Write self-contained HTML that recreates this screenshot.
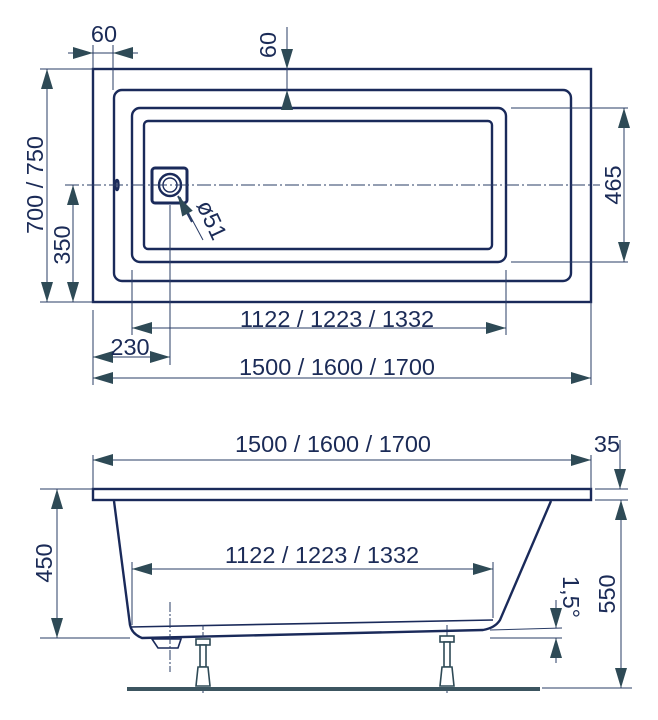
<!DOCTYPE html>
<html><head><meta charset="utf-8"><style>
html,body{margin:0;padding:0;background:#fff;}
svg{display:block;}
text{font-family:"Liberation Sans",sans-serif;fill:#1b2b57;font-size:23.5px;}
</style></head><body>
<svg width="658" height="720" viewBox="0 0 658 720" xmlns="http://www.w3.org/2000/svg">
<defs>
<marker id="a" viewBox="0 0 20 12" refX="20" refY="6" markerWidth="21" markerHeight="12" markerUnits="userSpaceOnUse" orient="auto-start-reverse">
<path d="M0,0 L20,6 L0,12 z" fill="#2e4a56"/>
</marker>
</defs>
<g fill="none" stroke="#1a2a5a" stroke-width="2.4">
<rect x="93" y="69" width="498" height="233"/>
<rect x="114" y="90" width="457" height="191" rx="8"/>
<rect x="132" y="108" width="374" height="154" rx="8"/>
<rect x="144" y="121" width="348" height="128" rx="4"/>
<rect x="152" y="168" width="35" height="35" rx="3" stroke-width="3"/>
<circle cx="170" cy="185" r="11"/>
<circle cx="170" cy="185" r="7" stroke-width="1.4"/>
<ellipse cx="117" cy="185" rx="1.5" ry="5"/>
<rect x="93" y="489" width="498" height="11"/>
<path d="M114,501 L130,625 Q132,634 142,638 L483,630 Q495,628 500,620 L551,501"/>
<path d="M130,627 L493,620" stroke-width="1.6"/>
<path d="M152,639 L181,639 L178,648 L158,648 Z" stroke-width="1.6"/>
</g>
<g fill="none" stroke="#2a3c66" stroke-width="1">
<line x1="65" y1="185" x2="600" y2="185" stroke-dasharray="14,3,2,3"/>
<line x1="93" y1="45" x2="93" y2="69"/>
<line x1="113" y1="45" x2="113" y2="90"/>
<line x1="287" y1="27" x2="287" y2="110"/>
<line x1="40" y1="69" x2="93" y2="69"/>
<line x1="40" y1="302" x2="93" y2="302"/>
<line x1="511" y1="108" x2="628" y2="108"/>
<line x1="511" y1="262" x2="628" y2="262"/>
<line x1="93" y1="310" x2="93" y2="385"/>
<line x1="132" y1="270" x2="132" y2="335"/>
<line x1="170" y1="205" x2="170" y2="365"/>
<line x1="506" y1="270" x2="506" y2="335"/>
<line x1="591" y1="302" x2="591" y2="385"/>
<line x1="180" y1="197" x2="203" y2="240"/>
<line x1="68" y1="53" x2="93" y2="53" marker-end="url(#a)"/>
<line x1="93" y1="53" x2="113" y2="53"/>
<line x1="138" y1="53" x2="113" y2="53" marker-end="url(#a)"/>
<line x1="287" y1="30" x2="287" y2="69" marker-end="url(#a)"/>
<line x1="287" y1="110" x2="287" y2="90" marker-end="url(#a)"/>
<line x1="47" y1="69" x2="47" y2="302" marker-start="url(#a)" marker-end="url(#a)"/>
<line x1="73" y1="185" x2="73" y2="302" marker-start="url(#a)" marker-end="url(#a)"/>
<line x1="624" y1="108" x2="624" y2="262" marker-start="url(#a)" marker-end="url(#a)"/>
<line x1="132" y1="328" x2="506" y2="328" marker-start="url(#a)" marker-end="url(#a)"/>
<line x1="93" y1="357" x2="170" y2="357" marker-start="url(#a)" marker-end="url(#a)"/>
<line x1="93" y1="378" x2="591" y2="378" marker-start="url(#a)" marker-end="url(#a)"/>
<line x1="192" y1="222" x2="178" y2="196" marker-end="url(#a)" stroke-width="2"/>
<line x1="93" y1="455" x2="93" y2="489"/>
<line x1="591" y1="455" x2="591" y2="489"/>
<line x1="93" y1="460" x2="591" y2="460" marker-start="url(#a)" marker-end="url(#a)"/>
<line x1="40" y1="489" x2="93" y2="489"/>
<line x1="40" y1="638" x2="130" y2="638"/>
<line x1="57" y1="489" x2="57" y2="638" marker-start="url(#a)" marker-end="url(#a)"/>
<line x1="595" y1="489" x2="628" y2="489"/>
<line x1="595" y1="500" x2="628" y2="500"/>
<line x1="620" y1="440" x2="620" y2="489" marker-end="url(#a)"/>
<line x1="621" y1="500" x2="621" y2="688" marker-start="url(#a)" marker-end="url(#a)"/>
<line x1="542" y1="688" x2="632" y2="688"/>
<line x1="132" y1="562" x2="132" y2="625"/>
<line x1="493" y1="562" x2="493" y2="618"/>
<line x1="132" y1="569" x2="493" y2="569" marker-start="url(#a)" marker-end="url(#a)"/>
<line x1="490" y1="630" x2="562" y2="628"/>
<line x1="490" y1="638" x2="562" y2="638"/>
<line x1="556" y1="600" x2="556" y2="628" marker-end="url(#a)"/>
<line x1="556" y1="663" x2="556" y2="638" marker-end="url(#a)"/>
<line x1="170" y1="602" x2="170" y2="672" stroke-dasharray="10,2,2,2"/>
<line x1="203" y1="625" x2="203" y2="695" stroke-dasharray="5,2"/>
<line x1="447" y1="625" x2="447" y2="695" stroke-dasharray="5,2"/>
</g>
<g fill="#fff" stroke="#2e4a56" stroke-width="1.6">
<rect x="196" y="639" width="14" height="6"/>
<rect x="200" y="645" width="6" height="22"/>
<path d="M198,667 L208,667 L210,686 L196,686 Z"/>
<rect x="440" y="636" width="14" height="6"/>
<rect x="444" y="642" width="6" height="25"/>
<path d="M442,667 L452,667 L454,686 L440,686 Z"/>
</g>
<rect x="127" y="687" width="413" height="4" fill="#3c5560"/>
<text x="104" y="42" text-anchor="middle">60</text>
<text transform="translate(276,45) rotate(-90)" text-anchor="middle">60</text>
<text transform="translate(43,185) rotate(-90)" text-anchor="middle">700 / 750</text>
<text transform="translate(70,245) rotate(-90)" text-anchor="middle">350</text>
<text transform="translate(621,185) rotate(-90)" text-anchor="middle">465</text>
<text transform="translate(196,205) rotate(65)" text-anchor="start" font-size="21">ø51</text>
<text x="337" y="327" text-anchor="middle">1122 / 1223 / 1332</text>
<text x="130" y="355" text-anchor="middle">230</text>
<text x="337" y="375" text-anchor="middle">1500 / 1600 / 1700</text>
<text x="333" y="452" text-anchor="middle">1500 / 1600 / 1700</text>
<text x="607" y="452" text-anchor="middle">35</text>
<text transform="translate(52,563) rotate(-90)" text-anchor="middle">450</text>
<text transform="translate(615,594) rotate(-90)" text-anchor="middle">550</text>
<text x="322" y="563" text-anchor="middle">1122 / 1223 / 1332</text>
<text transform="translate(563,576) rotate(90)" font-size="20">1,5°</text>
</svg>
</body></html>
